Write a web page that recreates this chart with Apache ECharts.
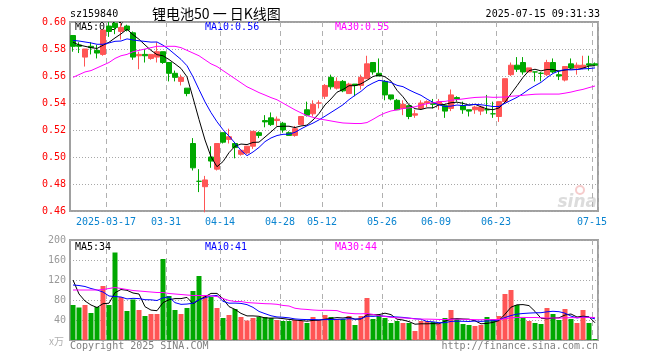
<!DOCTYPE html>
<html><head><meta charset="utf-8">
<script src="https://cdn.jsdelivr.net/npm/echarts@6/dist/echarts.min.js"></script>
<style>html,body{margin:0;padding:0;background:#fff}#c{width:660px;height:360px}</style>
</head><body><div id="c"></div>
<script>
// ---- data ----
const dates = ['03-07','03-10','03-11','03-12','03-13','03-14','03-17','03-18','03-19','03-20','03-21','03-24','03-25','03-26','03-27','03-28','03-31',
'04-01','04-02','04-03','04-07','04-08','04-09','04-10','04-11','04-14','04-15','04-16','04-17','04-18','04-21','04-22','04-23','04-24','04-25','04-28','04-29','04-30',
'05-06','05-07','05-08','05-09','05-12','05-13','05-14','05-15','05-16','05-19','05-20','05-21','05-22','05-23','05-26','05-27','05-28','05-29','05-30',
'06-03','06-04','06-05','06-06','06-09','06-10','06-11','06-12','06-13','06-16','06-17','06-18','06-19','06-20','06-23','06-24','06-25','06-26','06-27','06-30',
'07-01','07-02','07-03','07-04','07-07','07-08','07-09','07-10','07-11','07-14','07-15'];
const opens  = [0.590,0.583,0.574,0.582,0.579,0.576,0.597,0.599,0.593,0.597,0.592,0.575,0.576,0.573,0.574,0.578,0.570,0.562,0.556,0.551,
0.510,0.482,0.478,0.500,0.491,0.518,0.513,0.510,0.502,0.503,0.508,0.518,0.527,0.529,0.527,0.525,0.518,0.516,0.524,0.535,
0.532,0.540,0.545,0.559,0.551,0.556,0.547,0.554,0.553,0.558,0.570,0.562,0.556,0.546,0.542,0.536,0.538,0.531,0.536,0.540,
0.540,0.539,0.538,0.536,0.544,0.538,0.535,0.535,0.534,0.535,0.532,0.530,0.541,0.561,0.568,0.570,0.563,0.563,0.562,0.561,
0.570,0.561,0.557,0.569,0.566,0.566,0.569,0.569];
const closes = [0.582,0.582,0.580,0.581,0.577,0.594,0.593,0.596,0.596,0.594,0.574,0.576,0.575,0.576,0.578,0.570,0.562,0.559,0.559,0.547,
0.492,0.482,0.483,0.497,0.510,0.511,0.515,0.507,0.505,0.508,0.519,0.516,0.526,0.524,0.528,0.520,0.516,0.521,0.530,0.531,
0.539,0.540,0.553,0.552,0.556,0.549,0.554,0.553,0.559,0.569,0.563,0.560,0.546,0.543,0.535,0.539,0.530,0.532,0.540,0.541,
0.539,0.541,0.534,0.546,0.543,0.535,0.534,0.537,0.537,0.535,0.532,0.541,0.558,0.568,0.565,0.563,0.566,0.563,0.562,0.570,
0.563,0.560,0.567,0.566,0.568,0.568,0.568,0.568];
const lows   = [0.578,0.577,0.567,0.576,0.573,0.575,0.589,0.591,0.587,0.593,0.572,0.565,0.570,0.572,0.570,0.569,0.556,0.556,0.553,0.545,
0.490,0.474,0.459,0.492,0.490,0.510,0.510,0.499,0.501,0.502,0.506,0.514,0.522,0.523,0.523,0.518,0.516,0.515,0.524,0.530,
0.530,0.536,0.543,0.550,0.550,0.548,0.547,0.545,0.550,0.558,0.561,0.560,0.542,0.542,0.535,0.531,0.528,0.529,0.535,0.537,
0.536,0.535,0.529,0.534,0.541,0.532,0.530,0.532,0.531,0.532,0.529,0.526,0.540,0.560,0.563,0.561,0.563,0.556,0.556,0.560,
0.562,0.557,0.556,0.565,0.561,0.565,0.564,0.568];
const highs  = [0.590,0.585,0.580,0.585,0.583,0.594,0.600,0.600,0.599,0.598,0.593,0.578,0.580,0.576,0.585,0.578,0.570,0.564,0.561,0.551,
0.514,0.491,0.486,0.508,0.510,0.518,0.521,0.511,0.505,0.508,0.519,0.519,0.531,0.533,0.530,0.526,0.519,0.523,0.530,0.541,
0.542,0.542,0.554,0.561,0.559,0.557,0.555,0.554,0.561,0.575,0.570,0.573,0.557,0.546,0.543,0.542,0.538,0.535,0.542,0.542,
0.543,0.543,0.539,0.550,0.545,0.541,0.535,0.538,0.538,0.546,0.541,0.541,0.558,0.570,0.574,0.574,0.566,0.563,0.563,0.572,
0.573,0.564,0.567,0.573,0.570,0.575,0.575,0.570];
const volumes = [70,65,70,54,66,108,70,175,86,58, 81,60,48,52,52,162,88,60,52,64,
98,128,90,86,64,44,50,62,46,39, 44,46,46,44,40,38,38,40,38,34,
46,40,50,46,42,42,48,30,48,84, 42,50,44,34,38,34,34,18,38,38,
36,32,44,60,42,32,30,28,30,46, 42,48,92,100,70,44,38,34,32,64,
52,40,62,42,34,60,34,2];
// moving-average values at the start of the window (they depend on earlier sessions not shown)
const priceMa5Head  = [0.585,0.583,0.582,0.581];
const priceMa10Head = [0.5864,0.5859,0.5852,0.5845,0.5835,0.5835,0.5845,0.5857,0.5859];
const priceMa30Head = [0.559,0.561,0.563,0.564,0.566,0.568,0.570,0.573,0.575,0.576,0.578,0.579,0.580,0.581,0.582,
0.582,0.582,0.582,0.581,0.579,0.577,0.575,0.572,0.569,0.567,0.564,0.561,0.558,0.555];
const volMa5Head  = [120,92,78,70];
const volMa10Head = [110,109,107,103,100,96,88,87,86];
const volMa30Head = [100,100,100,100,100,101,103,105,103,101,99,98,97,96,95,95,93,92,91,90,89,89,89,88,87,83,79,77,77];
const tickDates  = ['03-17','03-31','04-14','04-28','05-12','05-26','06-09','06-23','07-15'];
const tickLabels = ['2025-03-17','03-31','04-14','04-28','05-12','05-26','06-09','06-23','07-15'];
const priceLegend = ['MA5:0.57','MA10:0.56','MA30:0.55'];
const volLegend   = ['MA5:34','MA10:41','MA30:44'];

// ---- helpers ----
function movingAvg(vals, n, head, dec){
  return vals.map((v,i)=>{
    if(i < n-1) return head[i];
    let s=0; for(let k=i-n+1;k<=i;k++) s+=vals[k];
    return +(s/n).toFixed(dec);
  });
}
const RED='#ff5555', GREEN='#00a800', MONO='DejaVu Sans Mono';
const tickSet = new Set(tickDates.map(d=>dates.indexOf(d)));
const labelMap = {}; tickDates.forEach((d,k)=>labelMap[d]=tickLabels[k]);
const ups = dates.map((d,i)=>{
  if(closes[i]>opens[i]) return true;
  if(closes[i]<opens[i]) return false;
  return i>0 ? closes[i-1] <= closes[i] : true;
});
const candle = dates.map((d,i)=>[opens[i],closes[i],lows[i],highs[i]]);
const volData = volumes.map((v,i)=>({value:v,itemStyle:{color:ups[i]?RED:GREEN}}));

const xCommon = (gi, showLabel)=>({
  type:'category', gridIndex:gi, data:dates, boundaryGap:true,
  axisLine:{show:false}, axisTick:{show:false},
  axisLabel:{show:showLabel, interval:(i)=>tickSet.has(i), formatter:(v)=>labelMap[v]||'',
    color:'#0a84d0', fontFamily:MONO, fontSize:10, margin:6, padding:[0,6,0,0]},
  splitLine:{show:true, interval:(i)=>tickSet.has(i), lineStyle:{color:'#b0b0b0', width:1, type:[5,4]}}
});
const lineS = (data, color, xi, yi)=>({type:'line', xAxisIndex:xi, yAxisIndex:yi, data, symbol:'none',
  lineStyle:{color, width:1}, z:5, silent:true});
const txt = (x,y,t,color,extra)=>Object.assign({type:'text', x, y, silent:true,
  style:Object.assign({text:t, fill:color, font:'10px "DejaVu Sans Mono"', verticalAlign:'middle'}, extra||{})});

const chart = echarts.init(document.getElementById('c'), null, {renderer:'canvas'});
chart.setOption({
  animation:false, backgroundColor:'#fff',
  grid:[
    {left:70, top:22, width:528, height:189, show:true, borderColor:'#a0a0a0', borderWidth:2},
    {left:70, top:240, width:528, height:100, show:true, borderColor:'#a0a0a0', borderWidth:2}
  ],
  xAxis:[xCommon(0,true), xCommon(1,false)],
  yAxis:[
    {type:'value', gridIndex:0, min:0.46, max:0.60, interval:0.02, axisLine:{show:false}, axisTick:{show:false},
     axisLabel:{color:'#ff0000', fontFamily:MONO, fontSize:10, margin:4, formatter:v=>v.toFixed(2)},
     splitLine:{lineStyle:{color:'#a8a8a8', width:1, type:[1,2]}}},
    {type:'value', gridIndex:1, min:0, max:200, interval:40, axisLine:{show:false}, axisTick:{show:false},
     axisLabel:{color:'#999999', fontFamily:MONO, fontSize:10, margin:4, formatter:v=>v===0?'':String(v)},
     splitLine:{lineStyle:{color:'#a8a8a8', width:1, type:[1,2]}}}
  ],
  series:[
    {type:'candlestick', xAxisIndex:0, yAxisIndex:0, data:candle, barWidth:5, silent:true,
     itemStyle:{color:RED, color0:GREEN, borderColor:RED, borderColor0:GREEN, borderWidth:1}},
    lineS(movingAvg(closes,5,priceMa5Head,4),'#000000',0,0),
    lineS(movingAvg(closes,10,priceMa10Head,4),'#0000ff',0,0),
    lineS(movingAvg(closes,30,priceMa30Head,4),'#ff00ff',0,0),
    {type:'bar', xAxisIndex:1, yAxisIndex:1, data:volData, barWidth:5, silent:true},
    lineS(movingAvg(volumes,5,volMa5Head,1),'#000000',1,1),
    lineS(movingAvg(volumes,10,volMa10Head,1),'#0000ff',1,1),
    lineS(movingAvg(volumes,30,volMa30Head,1),'#ff00ff',1,1)
  ],
  graphic:[
    txt(70,14,'sz159840','#000'),
    {type:'text', x:152, y:14, silent:true, style:{text:'锂电池50 一 日K线图', fill:'#000', font:'14px "Noto Sans CJK SC"', verticalAlign:'middle'}},
    txt(600,14,'2025-07-15 09:31:33','#000',{align:'right'}),
    txt(75,27,priceLegend[0],'#000'),
    txt(205,27,priceLegend[1],'#0000ff'),
    txt(335,27,priceLegend[2],'#ff00ff'),
    txt(75,247,volLegend[0],'#000'),
    txt(205,247,volLegend[1],'#0000ff'),
    txt(335,247,volLegend[2],'#ff00ff'),
    {type:'text', x:49, y:341, silent:true, style:{text:'x万', fill:'#b0b0b0', font:'10px "Noto Sans CJK SC"', verticalAlign:'middle'}},
    txt(70,346,'Copyright 2025 SINA.COM','#808080'),
    txt(598,346,'http://finance.sina.com.cn','#808080',{align:'right'}),
    {type:'circle', shape:{cx:580, cy:190, r:4}, silent:true, z:0, style:{fill:'none', stroke:'#f6cccc', lineWidth:2}},
    {type:'text', x:597, y:203, silent:true, z:0, style:{text:'sina', fill:'#dcdcdc', font:'italic bold 17px "DejaVu Sans"', align:'right', verticalAlign:'middle'}}
  ]
});
</script></body></html>
